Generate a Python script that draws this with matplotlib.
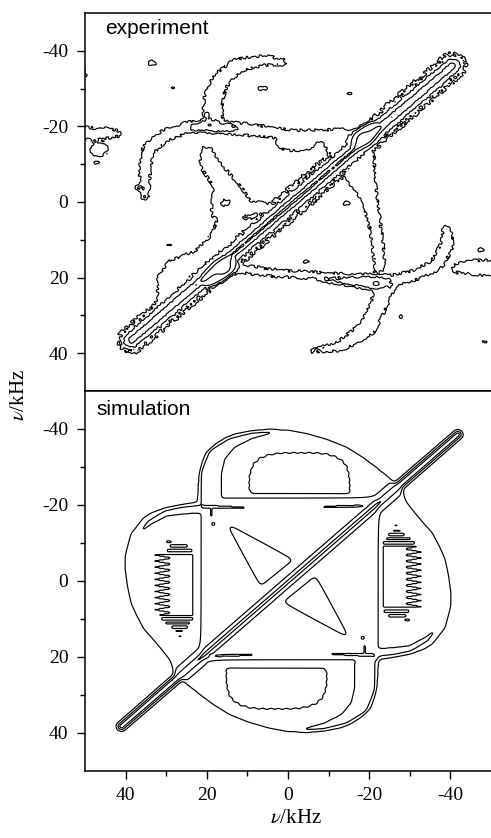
import numpy as np
import matplotlib
matplotlib.use("Agg")
import matplotlib.pyplot as plt
from matplotlib.path import Path

plt.rcParams['axes.unicode_minus'] = False
plt.rcParams['mathtext.fontset'] = 'stix'
plt.rcParams['font.family'] = ['Liberation Serif', 'DejaVu Serif']

# ---------------- text / scales ----------------
PANEL_NAMES = ["experiment", "simulation"]
AXIS_LABEL = r"$\nu$/kHz"
AXIS_RANGE = (50, -50)
MAJOR_TICKS = [40, 20, 0, -20, -40]
MINOR_TICKS = [30, 10, -10, -30]
CONTOUR_LEVELS = [1, 2, 4, 8]

# intensity steps (in contour units)
BASE, RIDGE, PEAK = 1.5, 2.7, 5.5

# ---------------- simulation (kHz) ----------------
SIM_DIAG_ENDS = [(41.0, 38.3), (-41.8, -38.5)]
SIM_DIAG_FRAC = [0.0, 0.15, 0.3, 0.5, 0.7, 0.85, 1.0]
SIM_DIAG_AMP = [6.0, 6.5, 7.0, 7.0, 7.0, 6.5, 6.0]
SIM_DIAG_WIDTH = 0.6
SIM_LOBE_LEFT = [(22.0, -21.0), (26.0, -20.3), (30.0, -19.5), (33.5, -18.2), (35.7, -16.8),
                 (38.9, -12.4), (40.2, -7.0), (40.3, -3.0), (39.7, 1.6), (38.8, 6.0),
                 (37.3, 9.6), (35.5, 13.0), (33.2, 15.7), (31.0, 18.5), (29.1, 21.0),
                 (27.6, 25.2), (21.0, 19.4), (20.0, -21.0)]
SIM_LOBE_TOP = [(22.5, -21.0), (22.3, -24.0), (22.1, -27.4), (21.5, -30.5), (20.5, -33.6),
                (18.0, -36.2), (15.5, -37.8), (13.1, -38.9), (9.0, -39.7), (4.5, -40.1),
                (0.0, -39.9), (-5.0, -38.9), (-10.0, -37.3), (-14.4, -35.4), (-18.5, -32.7),
                (-21.5, -30.3), (-24.2, -27.9), (-26.8, -25.0), (-21.5, -20.0), (-21.0, -21.0)]
SIM_SQUARE = [(21.3, -21.7), (-22.0, -21.7), (-22.0, 21.0), (21.3, 21.0)]
SIM_BANDS = [
    ([(19.0, -21.5), (19.0, -28.0), (17.5, -33.0), (14.0, -36.2), (9.0, -38.2), (4.0, -39.1)],
     [2.4, 2.4, 2.0, 1.2, 0.6, 0.2]),
    ([(21.5, -18.9), (26.0, -18.5), (30.0, -17.8), (34.0, -15.4), (36.8, -12.5)],
     [0.9, 0.8, 0.6, 0.45, 0.1]),
]
SIM_BLOB = (-2.8, -24.0, 12.2, 9.6, 3.5, 0.035, 40, -23.0)  # cx, cy, rx, ry, p, wiggle, n, flat edge
SIM_RECT = (23.6, 28.0, 5.0, 1.6, -6.8, 9.2)  # right edge, left base, zigzag depth, period, y1, y2
SIM_STRIPES = [(-8.0, 24.0, 29.5, 0.3), (-9.2, 25.0, 28.8, 0.22), (-10.2, 29.0, 29.8, 0.2),
               (10.0, 23.8, 30.8, 0.3), (11.1, 24.5, 29.8, 0.25), (12.2, 25.0, 28.5, 0.22),
               (13.2, 26.0, 27.5, 0.18), (14.6, 26.4, 26.8, 0.18)]
SIM_TRIANGLES = [[(15.5, -15.5), (-2.0, -5.5), (6.8, 2.0)]]
SIM_SPIKES = [
    ([(21.0, -19.6), (15.0, -19.4), (9.0, -19.2)], [0.4, 0.28, 0.06]),
    ([(-19.0, -19.7), (-13.0, -19.6), (-7.0, -19.4)], [0.4, 0.28, 0.06]),
    ([(18.9, -19.4), (18.9, -17.0)], [0.3, 0.1]),
]
SIM_DOTS = [(18.4, -15.0, 0.35, 0.35, 0, -1.2)]

# ---------------- experiment (kHz) ----------------
EXP_DIAG_ENDS = [(38.5, 36.5), (-40.5, -36.0)]
EXP_DIAG_FRAC = [0.0, 0.1, 0.25, 0.5, 0.75, 0.9, 1.0]
EXP_DIAG_AMP = [4.5, 5.0, 6.0, 7.0, 6.0, 5.0, 4.5]
EXP_DIAG_WIDTH = 0.7
EXP_PEDESTAL = (1.9, 2.6)
EXP_LOW_TUBES = [
    ([(18.5, -21), (18.5, -27), (16.8, -32), (12.5, -36.2), (6, -37.5), (1, -37)],
     [2.6, 2.6, 2.4, 2.0, 1.6, 1.0]),
    ([(25, -19.8), (19, -20), (12, -19.4), (6, -18.7), (0, -18), (-8, -17.8), (-15, -17.8), (-19, -17.6)],
     [1.6, 1.8, 1.9, 1.7, 1.4, 1.3, 1.3, 1.3]),
    ([(25, -19.5), (30, -17.8), (34.3, -14), (35.3, -9), (35.2, -4), (35, -2.5)],
     [1.5, 1.8, 1.8, 1.6, 1.5, 1.1]),
    ([(53, -18.3), (45, -18.2), (41.5, -18.1)], [1.8, 1.7, 1.0]),
    ([(16, 17), (8, 18.2), (2, 18.9), (-5, 19.3), (-10.3, 19.7), (-16, 20.3), (-21.7, 20.8), (-26, 21)],
     [1.3, 1.3, 1.2, 1.2, 1.2, 1.4, 1.8, 2.0]),
    ([(-25, 21), (-30.8, 19.5), (-36.5, 16.8), (-39, 12), (-39.3, 7.3)], [1.8, 1.6, 1.8, 1.9, 1.4]),
    ([(-41.5, 17.5), (-46, 17.3), (-53, 17.8)], [1.5, 2.2, 2.6]),
    ([(-24, 22.5), (-22, 28), (-19.5, 33.5), (-13, 38), (-5.5, 39.6)], [2.5, 2.3, 2.3, 1.6, 0.6]),
]
EXP_LOW_POLYS = [
    [(21.5, -14.8), (22, -9.5), (18.8, -4), (19.2, 4), (14.8, 4.8), (10, 3.6), (4, 2.8), (1.5, 0.5),
     (9.4, -0.5), (10.5, -3), (14, -7.5), (17.5, -12), (19, -14.8)],
    [(17.6, 3.9), (18.9, 8.3), (23, 12.7), (29.5, 15.3), (32.4, 19.8), (32.4, 25.9), (36.5, 31.2),
     (40.5, 35.5), (38, 36), (20, 18.3), (10, 9.2), (5, 4.6)],
    [(-5, -19.3), (-15, -19.5), (-19.5, -18), (-21.5, -12), (-21.8, -5), (-22.5, 1), (-23.4, 8),
     (-24.2, 15.3), (-23.5, 18.5), (-21.2, 18.8), (-20.1, 8.3), (-18, 0), (-15.5, -4), (-11, -11), (-7, -18)],
]
EXP_LOW_ELLIPSES = [(-2, -15.5, 5.5, 2.2, 0), (46.5, -14, 2.5, 2.2, 0), (51, -34, 1.6, 2.0, 0)]
EXP_MID_TUBES = [
    ([(23.5, -19.8), (19.5, -20.2), (15, -19.7), (12.5, -19.4)], [0.9, 1.4, 1.0, 0.3]),
    ([(-8, 20.6), (-14, 21), (-20, 21.4), (-24.5, 21.5)], [0.3, 0.9, 1.7, 1.0]),
]
EXP_PEAK_ELLIPSES = [(19.3, -20.4, 1.0, 0.6, 0), (-21.7, 21.6, 1.1, 0.7, 0),
                     (17.0, 18.3, 5.5, 2.3, 42), (-19.3, -17.7, 4.5, 2.2, 42)]
EXP_DOTS = [(33.3, -36.8, 1.1, 0.6, 1.6), (28.3, -30.2, 0.6, 0.25, 1.6), (6.5, -30.1, 1.1, 0.6, 1.6),
            (-15.2, -28.7, 0.6, 0.25, 1.6), (20, -23, 0.5, 0.4, 1.6), (47, -10.4, 0.7, 0.4, 1.6),
            (37, -3.7, 0.9, 0.5, 1.6), (35.5, -1.2, 0.9, 0.5, 1.6), (29.5, 11.4, 0.6, 0.25, 1.6),
            (-14.4, 0.35, 0.7, 0.5, 1.6), (-27.7, 30.3, 0.5, 0.4, 1.6), (-4.5, 15.8, 0.6, 0.4, 1.6),
            (-47.6, 12.7, 0.8, 0.45, 1.6), (-48.4, 37, 0.6, 0.25, 1.6), (15.4, 0.2, 0.8, 0.6, 1.3),
            (15.8, 17.6, 1.5, 1.3, 4.0), (-18.9, -16.9, 1.5, 1.1, 4.0)]
TEX_WAVES = [(2.9, 1.1, 0.3), (-1.7, 3.1, 1.9), (4.1, -2.3, 4.2), (0.8, -4.6, 2.7), (-3.6, -2.8, 5.5),
             (5.3, 3.7, 0.9), (-6.1, 1.4, 3.3), (1.9, 6.2, 2.1), (1.2, 0.7, 4.8), (-0.9, 1.5, 0.6)]
TEX_AMP = 0.45

# ---------------- grid helpers ----------------
STEP = 0.2
G = np.arange(-52.0, 52.0 + STEP / 2, STEP)
X, Y = np.meshgrid(G, G)
PTS = np.column_stack([X.ravel(), Y.ravel()])


def poly_mask(verts):
    return Path(np.asarray(verts, float)).contains_points(PTS).reshape(X.shape)


def seg_param(p0, p1):
    p0 = np.asarray(p0, float)
    d = np.asarray(p1, float) - p0
    L2 = max(d @ d, 1e-9)
    t = np.clip(((X - p0[0]) * d[0] + (Y - p0[1]) * d[1]) / L2, 0, 1)
    dist = np.hypot(X - p0[0] - t * d[0], Y - p0[1] - t * d[1])
    return t, dist


def tube_mask(pts, hws):
    best = np.full(X.shape, np.inf)
    for i in range(len(pts) - 1):
        t, dist = seg_param(pts[i], pts[i + 1])
        h = hws[i] + (hws[i + 1] - hws[i]) * t
        best = np.minimum(best, dist / np.maximum(h, 0.04))
    return best <= 1.0


def rotated(cx, cy, ang):
    a = np.deg2rad(ang)
    dx, dy = X - cx, Y - cy
    return dx * np.cos(a) + dy * np.sin(a), -dx * np.sin(a) + dy * np.cos(a)


def ellipse_mask(cx, cy, rx, ry, ang=0.0, p=2.0, wig=0.0, nwig=0):
    u, v = rotated(cx, cy, ang)
    r = (np.abs(u / rx) ** p + np.abs(v / ry) ** p) ** (1.0 / p)
    if nwig:
        r = r * (1 + wig * np.sin(nwig * np.arctan2(v / ry, u / rx)))
    return r <= 1.0


def gauss_dot(cx, cy, rx, ry, amp, ang=0.0):
    u, v = rotated(cx, cy, ang)
    return amp * np.exp(-0.47 * ((u / rx) ** 2 + (v / ry) ** 2))


def paint(canvas, mask, value, sym=False):
    if sym:
        mask = mask | mask[::-1, ::-1]
    canvas[mask] = value


def blur(F, sigma):
    n = int(np.ceil(3 * sigma / STEP))
    k = np.exp(-0.5 * ((np.arange(-n, n + 1) * STEP) / sigma) ** 2)
    k /= k.sum()
    Fp = np.pad(F, n, mode='edge')
    F1 = np.apply_along_axis(np.convolve, 1, Fp, k, mode='valid')
    return np.apply_along_axis(np.convolve, 0, F1, k, mode='valid')


def diag_ridge(ends, frac, amp, width):
    t, dist = seg_param(ends[0], ends[1])
    return np.interp(t, frac, amp) / (1 + (dist / width) ** 2), t, dist


# ---------------- simulation field ----------------
def build_sim():
    C = np.zeros_like(X)
    for poly in (SIM_LOBE_LEFT, SIM_LOBE_TOP):
        paint(C, poly_mask(poly), BASE, sym=True)
    paint(C, poly_mask(SIM_SQUARE), RIDGE)
    for pts, hw in SIM_BANDS:
        paint(C, tube_mask(pts, hw), RIDGE, sym=True)
    cx, cy, rx, ry, p, wig, n, flat = SIM_BLOB
    paint(C, ellipse_mask(cx, cy, rx, ry, 0, p, wig, n) & (Y <= flat), RIDGE, sym=True)
    C = blur(C, 0.45)
    # fine-structured ripples inside the side lobes and thin spikes at the square edges
    fine = np.zeros_like(X)
    xr, xl, zig, per, y1, y2 = SIM_RECT
    tri = np.abs(((Y - y1) / per) % 1.0 * 2 - 1)
    paint(fine, (X >= xr) & (X <= xl + zig * tri) & (Y >= y1) & (Y <= y2), RIDGE - BASE, sym=True)
    for yy, x1, x2, hw in SIM_STRIPES:
        paint(fine, tube_mask([(x1, yy), (x2, yy)], [hw, hw]), RIDGE - BASE, sym=True)
    for pts, hw in SIM_SPIKES:
        paint(fine, tube_mask(pts, hw), BASE - RIDGE, sym=True)
    C = C + blur(fine, 0.15)
    # low-intensity triangles inside the square
    dip = np.zeros_like(X)
    for tri_pts in SIM_TRIANGLES:
        paint(dip, poly_mask(tri_pts), BASE - RIDGE, sym=True)
    C = C + blur(dip, 0.7)
    core, _, _ = diag_ridge(SIM_DIAG_ENDS, SIM_DIAG_FRAC, SIM_DIAG_AMP, SIM_DIAG_WIDTH)
    F = C + core
    for cx, cy, rx, ry, ang, amp in SIM_DOTS:
        d = gauss_dot(cx, cy, rx, ry, amp, ang)
        F = F + d + d[::-1, ::-1]
    return F


# ---------------- experiment field ----------------
def build_exp():
    C = np.zeros_like(X)
    for pts, hw in EXP_LOW_TUBES:
        paint(C, tube_mask(pts, hw), BASE)
    for poly in EXP_LOW_POLYS:
        paint(C, poly_mask(poly), BASE)
    for e in EXP_LOW_ELLIPSES:
        paint(C, ellipse_mask(*e), BASE)
    for pts, hw in EXP_MID_TUBES:
        paint(C, tube_mask(pts, hw), RIDGE)
    for e in EXP_PEAK_ELLIPSES:
        paint(C, ellipse_mask(*e), PEAK)
    C = blur(C, 0.6)
    core, t, dist = diag_ridge(EXP_DIAG_ENDS, EXP_DIAG_FRAC, EXP_DIAG_AMP, EXP_DIAG_WIDTH)
    ped = EXP_PEDESTAL[0] * np.exp(-0.5 * (dist / EXP_PEDESTAL[1]) ** 2)
    R = np.maximum(C, ped)
    for cx, cy, rx, ry, amp in EXP_DOTS:
        R = R + gauss_dot(cx, cy, rx, ry, amp)
    T = sum(np.sin(kx * X + ky * Y + ph) for kx, ky, ph in TEX_WAVES)
    T = np.clip(T / np.sqrt(len(TEX_WAVES) / 2.0), -2, 2)
    w = np.exp(-((R - 1) / 0.3) ** 2) + 0.7 * np.exp(-((R - 2) / 0.4) ** 2)
    R = R + TEX_AMP * T * w
    return R + core


# ---------------- figure ----------------
W, H = 491, 838
fig = plt.figure(figsize=(W / 100, H / 100), dpi=100)


def frame(l, t, r, b):
    return [l / W, 1 - b / H, (r - l) / W, (b - t) / H]


ax_top = fig.add_axes(frame(85, 13, 491, 391))
ax_bot = fig.add_axes(frame(85, 391, 491, 770.7))

for ax, F in ((ax_top, build_exp()), (ax_bot, build_sim())):
    ax.contour(G, G, F, levels=CONTOUR_LEVELS, colors='k', linewidths=0.85)
    ax.set_xlim(*AXIS_RANGE)
    ax.set_ylim(*AXIS_RANGE)
    ax.set_yticks(MAJOR_TICKS)
    ax.set_yticks(MINOR_TICKS, minor=True)
    ax.set_xticks(MAJOR_TICKS)
    ax.set_xticks(MINOR_TICKS, minor=True)
    ax.spines['right'].set_visible(False)
    for s in ('left', 'top', 'bottom'):
        ax.spines[s].set_linewidth(1.1)
    ax.tick_params(axis='both', which='major', direction='out', length=6, width=1.0,
                   labelsize=14, pad=6)
    ax.tick_params(axis='both', which='minor', direction='out', length=3.5, width=1.0)

ax_top.tick_params(axis='x', which='both', bottom=False, labelbottom=False)

ax_top.text((105 - 85) / 406, (391 - 34) / 378, PANEL_NAMES[0], transform=ax_top.transAxes,
            family=['Liberation Sans', 'DejaVu Sans'], fontsize=15, va='baseline', ha='left')
ax_bot.text((96.7 - 85) / 406, (770.7 - 415) / 379.7, PANEL_NAMES[1], transform=ax_bot.transAxes,
            family=['Liberation Sans', 'DejaVu Sans'], fontsize=15, va='baseline', ha='left')

fig.text(20 / W, 1 - 395 / H, AXIS_LABEL, rotation=90, ha='center', va='center', fontsize=15)
fig.text(296 / W, 1 - 818 / H, AXIS_LABEL, ha='center', va='center', fontsize=15)

fig.savefig('out.png', dpi=100)
